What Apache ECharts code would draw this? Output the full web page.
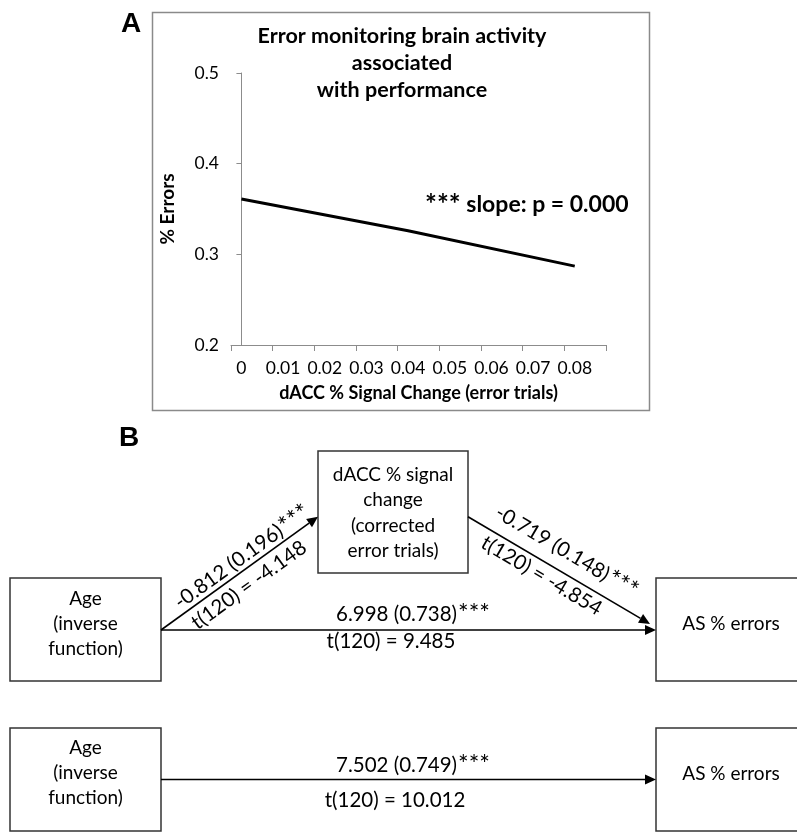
<!DOCTYPE html>
<html>
<head>
<meta charset="utf-8">
<script src="https://cdn.jsdelivr.net/npm/echarts@6/dist/echarts.min.js"></script>
<style>
  html, body { margin: 0; padding: 0; background: #ffffff; }
  #chart { width: 797px; height: 832px; }
</style>
</head>
<body>
<div id="chart"></div>
<script>
// Panel A: fitted regression of error rate on dACC signal change
const signalChange = [0, 0.04, 0.08];
const pctErrors = [0.361, 0.326, 0.287];

// Axis ticks and labels
const yTickValues = [0.2, 0.3, 0.4, 0.5];
const xLabelValues = [0, 0.01, 0.02, 0.03, 0.04, 0.05, 0.06, 0.07, 0.08];
const xTickValues = [-0.0025, 0.0075, 0.0175, 0.0275, 0.0375, 0.0475, 0.0575, 0.0675, 0.0775, 0.0875];

// Panel B: mediation path estimates (coefficient (SE), t statistic)
const pathA = ['-0.812 (0.196)', 't(120) = -4.148'];
const pathB = ['-0.719 (0.148)', 't(120) = -4.854'];
const pathCprime = ['6.998 (0.738)', 't(120) = 9.485'];
const pathC = ['7.502 (0.749)', 't(120) = 10.012'];
const signif = '***';

const FONT = 'Lato';
const chart = echarts.init(document.getElementById('chart'), null, { renderer: 'canvas' });

const pairs = signalChange.map((x, i) => [x, pctErrors[i]]);

function txt(x, y, text, opts) {
  opts = opts || {};
  const size = opts.size || 19;
  return {
    type: 'text', x: x, y: y, rotation: opts.rotation || 0, z: 10,
    style: {
      text: text, fill: '#000',
      fontFamily: opts.family || FONT,
      fontSize: size,
      fontWeight: opts.weight || 'normal',
      lineHeight: opts.lineHeight,
      align: opts.align || 'center',
      verticalAlign: 'middle',
      rich: {
        st: { fontFamily: FONT, fontSize: Math.round(size * 1.2), fontWeight: opts.weight || 'normal',
              fill: '#000', padding: [0, 0, 0, 1] }
      }
    }
  };
}
function coef(x, y, label, rotation) {
  return txt(x, y, label + '{st|' + signif + '}', { size: 20.5, rotation: rotation });
}
function box(x, y, w, h, stroke, lw) {
  return { type: 'rect', z: 1, shape: { x: x, y: y, width: w, height: h },
           style: { fill: 'none', stroke: stroke, lineWidth: lw } };
}
function arrow(x1, y1, x2, y2) {
  const dx = x2 - x1, dy = y2 - y1, len = Math.hypot(dx, dy);
  const ux = dx / len, uy = dy / len, L = 11, W = 5;
  const bx = x2 - ux * L, by = y2 - uy * L;
  return [
    { type: 'line', z: 5, shape: { x1: x1, y1: y1, x2: bx, y2: by },
      style: { stroke: '#000', lineWidth: 1.6 } },
    { type: 'polygon', z: 5,
      shape: { points: [[x2, y2], [bx - uy * W, by + ux * W], [bx + uy * W, by - ux * W]] },
      style: { fill: '#000' } }
  ];
}

const angA = Math.atan2(630 - 516.7, 318 - 161);
const angB = -Math.atan2(624 - 516.7, 650 - 468);

const graphics = [
  box(152.5, 12.5, 497, 398, '#8a8a8a', 1.5),
  txt(131, 24, 'A', { family: 'Liberation Sans', size: 28, weight: 'bold' }),
  txt(402, 63, 'Error monitoring brain activity\nassociated\nwith performance',
      { size: 21.5, weight: 'bold', lineHeight: 27 }),
  txt(424, 205, '{st|' + signif + '} slope: p = 0.000', { size: 23, weight: 'bold', align: 'left' }),

  txt(129, 438, 'B', { family: 'Liberation Sans', size: 28, weight: 'bold' }),

  // boxes
  box(318, 451, 150, 122, '#333', 1.5),
  txt(393, 513, 'dACC % signal\nchange\n(corrected\nerror trials)', { lineHeight: 25.5 }),
  box(10, 578, 151, 103, '#333', 1.5),
  txt(85.5, 624, 'Age\n(inverse\nfunction)', { lineHeight: 25 }),
  box(656, 578, 160, 103, '#333', 1.5),
  txt(731, 624, 'AS % errors'),

  box(10, 728, 151, 103, '#333', 1.5),
  txt(85.5, 773, 'Age\n(inverse\nfunction)', { lineHeight: 25 }),
  box(656, 728, 160, 103, '#333', 1.5),
  txt(731, 774, 'AS % errors'),

  // path labels
  coef(242, 557, pathA[0], angA),
  txt(249, 585, pathA[1], { size: 20.5, rotation: angA }),
  coef(566.7, 551.7, pathB[0], angB),
  txt(541.7, 575.7, pathB[1], { size: 20.5, rotation: angB }),
  coef(413, 614, pathCprime[0], 0),
  txt(391, 641, pathCprime[1], { size: 20.5 }),
  coef(413, 765, pathC[0], 0),
  txt(395, 800, pathC[1], { size: 20.5 })
].concat(
  arrow(161, 630, 318, 516.7),
  arrow(468, 516.7, 650, 624),
  arrow(161, 630, 656, 630),
  arrow(161, 779.5, 656, 779.5)
);

const axisGray = '#8c8c8c';
chart.setOption({
  animation: false,
  backgroundColor: '#ffffff',
  grid: { left: 231, top: 73, width: 375, height: 272, containLabel: false },
  xAxis: {
    type: 'value', min: -0.0025, max: 0.0875,
    name: 'dACC % Signal Change (error trials)',
    nameLocation: 'middle', nameGap: 39,
    nameTextStyle: { fontFamily: FONT, fontWeight: 'bold', fontSize: 18, color: '#000' },
    axisLine: { lineStyle: { color: axisGray, width: 1 } },
    axisTick: { show: true, length: 6, lineStyle: { color: axisGray }, customValues: xTickValues },
    axisLabel: { customValues: xLabelValues, margin: 14, fontFamily: FONT, fontSize: 17.5, color: '#000',
                 formatter: v => String(+v.toFixed(2)) },
    splitLine: { show: false }
  },
  yAxis: {
    type: 'value', min: 0.2, max: 0.5, interval: 0.1,
    name: '% Errors', nameLocation: 'middle', nameGap: 54, nameRotate: 90,
    nameTextStyle: { fontFamily: FONT, fontWeight: 'bold', fontSize: 19, color: '#000' },
    axisLine: { show: true, lineStyle: { color: axisGray, width: 1 } },
    axisTick: { show: true, length: 5, lineStyle: { color: axisGray }, customValues: yTickValues },
    axisLabel: { customValues: yTickValues, margin: 12, fontFamily: FONT, fontSize: 17.5, color: '#000',
                 formatter: v => v.toFixed(1) },
    splitLine: { show: false }
  },
  series: [{
    type: 'line', data: pairs, symbol: 'none', smooth: false, z: 3,
    lineStyle: { color: '#000', width: 3 }
  }],
  graphic: graphics
});
</script>
</body>
</html>
